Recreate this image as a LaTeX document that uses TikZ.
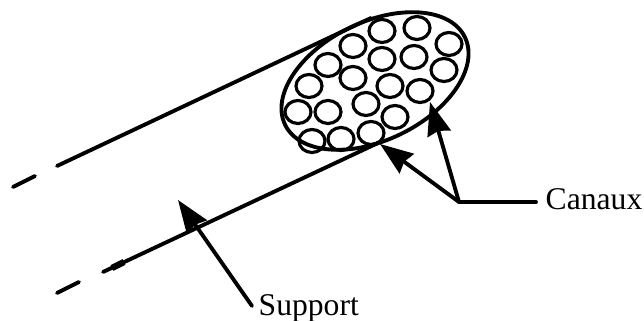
\documentclass[tikz,border=0pt]{standalone}
\usepackage{fontspec}
\setmainfont{Liberation Serif}
\usetikzlibrary{arrows.meta}
\begin{document}
\begin{tikzpicture}[font=\fontsize{9}{11}\selectfont, line join=round, line cap=round, >={Stealth[length=0.33cm,width=0.24cm,inset=0.03cm]}]
	\tikzset{tube/.style={line width=1.1pt}, fleche/.style={line width=1.1pt,->}, canal/.style={line width=0.9pt}}
	\useasboundingbox (0,0) rectangle (6.44,3.21);
	% tube
	\coordinate (h0) at (0.13,1.34);
	\coordinate (h1) at (0.35,1.45);
	\coordinate (h2) at (0.57,1.55);
	\coordinate (h3) at (3.71,3.03);
	\coordinate (b0) at (0.57,0.28);
	\coordinate (b1) at (0.79,0.39);
	\coordinate (b2) at (1.03,0.49);
	\coordinate (b4) at (1.12,0.53);
	\coordinate (b5) at (1.24,0.59);
	\coordinate (b3) at (3.78,1.78);
	\draw[tube] (h0)--(h1);
	\draw[tube] (h2)--(h3);
	\draw[tube] (b0)--(b1);
	\draw[tube] (b2)--(b3);
	\draw[line width=1.8pt,line cap=butt] (b4)--(b5);
	% section
	\draw[tube,rotate around={26:(3.75,2.40)}] (3.75,2.40) ellipse (1.00 and 0.59);
	\foreach \x/\y in {382/290,417/293,449/277,353/275,328/256,382/262,414/264,444/251,309/235,353/243,390/235,420/230,298/209,328/209,366/217,395/204,312/180,341/182,371/188}
		\draw[canal] (\x/100,\y/100) ellipse (0.13 and 0.115);
	% labels
	\node[anchor=base west,inner sep=0pt] (canaux) at (5.45,1.11) {Canaux};
	\node[anchor=base west,inner sep=0pt] (support) at (2.58,0.05) {Support};
	\coordinate (c0) at (5.36,1.19);
	\coordinate (c1) at (4.59,1.19);
	\coordinate (c2) at (3.80,1.77);
	\coordinate (c3) at (4.30,2.19);
	\coordinate (s0) at (2.52,0.15);
	\coordinate (s1) at (1.78,1.21);
	\draw[tube] (c0)--(c1);
	\draw[fleche] (c1)--(c2);
	\draw[fleche] (c1)--(c3);
	\draw[fleche] (s0)--(s1);
\end{tikzpicture}
\end{document}
